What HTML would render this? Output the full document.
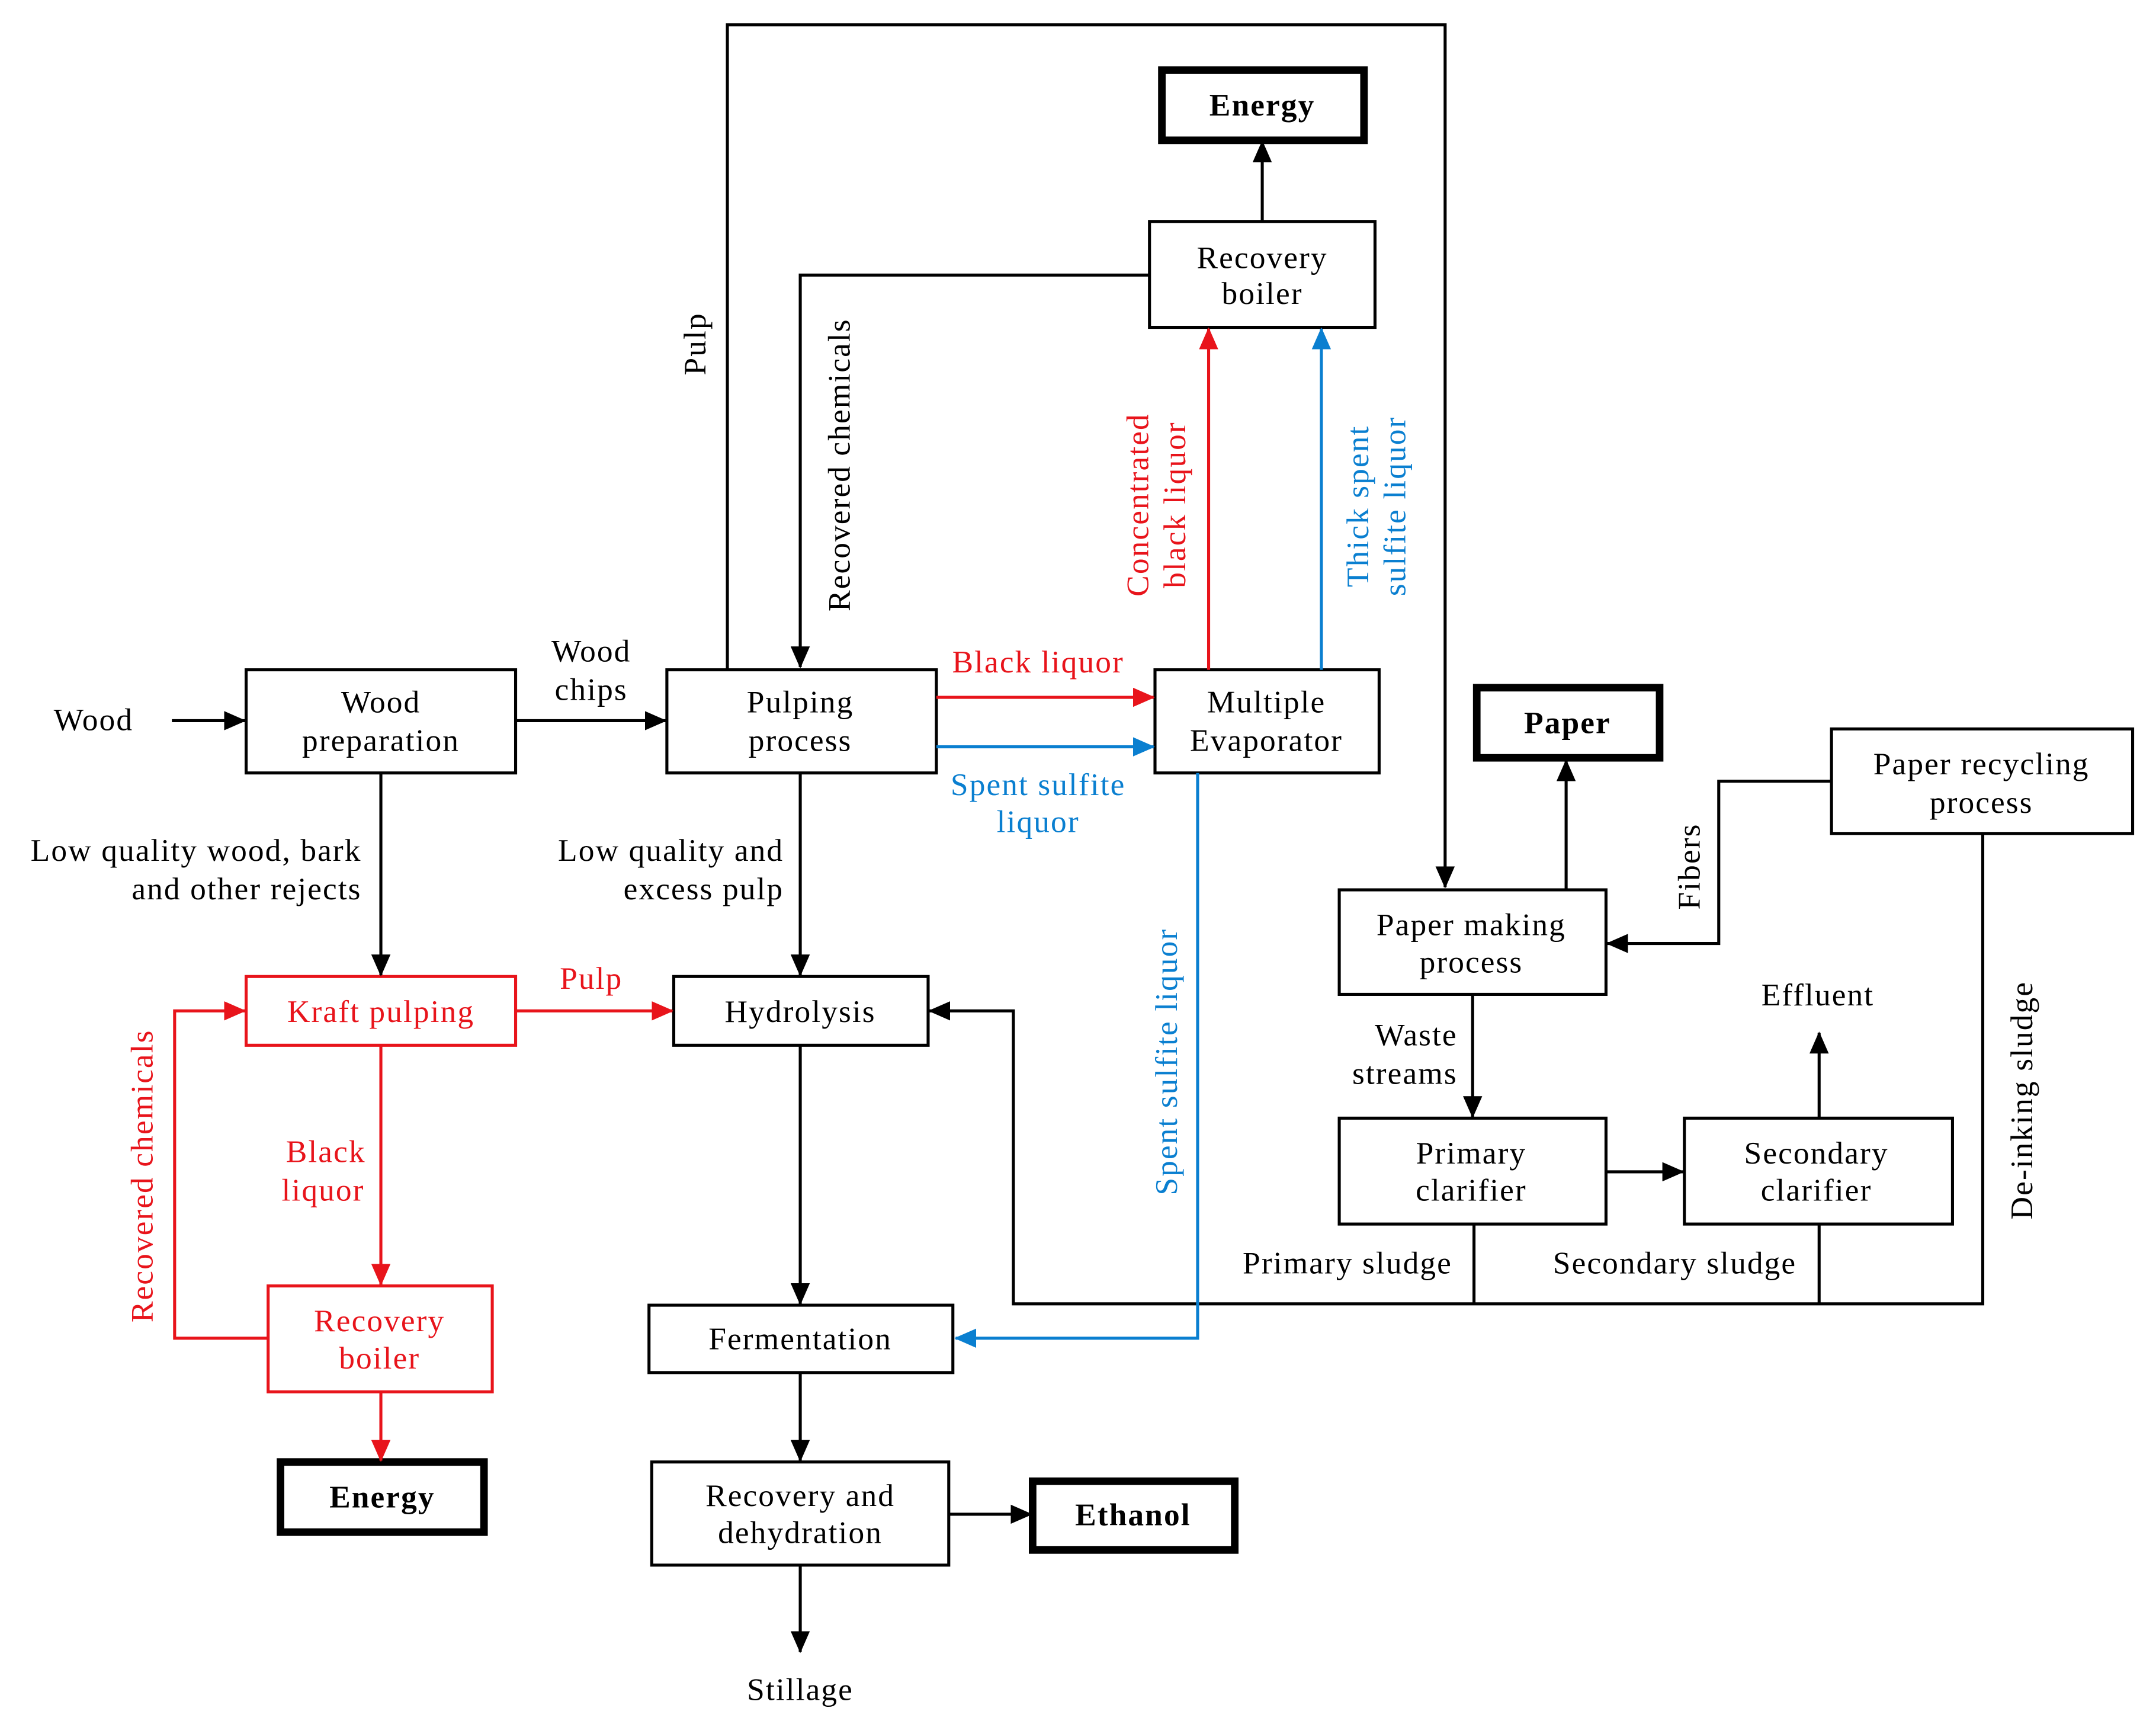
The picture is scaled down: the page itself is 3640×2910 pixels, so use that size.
<!DOCTYPE html>
<html><head><meta charset="utf-8"><style>html,body{margin:0;padding:0;background:#fff}svg{display:block}text{font-family:"Liberation Serif",serif;font-size:23px;letter-spacing:0.9px}</style></head>
<body>
<svg width="3640" height="2910" viewBox="0 0 1568 1253.5" xmlns="http://www.w3.org/2000/svg">
<defs>
<marker id="ak" markerUnits="userSpaceOnUse" markerWidth="16" markerHeight="14" refX="15" refY="7" orient="auto"><path d="M0,0 L16,7 L0,14 z" fill="#000"/></marker>
<marker id="ar" markerUnits="userSpaceOnUse" markerWidth="16" markerHeight="14" refX="15" refY="7" orient="auto"><path d="M0,0 L16,7 L0,14 z" fill="#e8141b"/></marker>
<marker id="ab" markerUnits="userSpaceOnUse" markerWidth="16" markerHeight="14" refX="15" refY="7" orient="auto"><path d="M0,0 L16,7 L0,14 z" fill="#0a7fd0"/></marker>
</defs>
<g fill="none" stroke="#000" stroke-width="2.2">
<rect x="179" y="487" width="196" height="75"/>
<rect x="485" y="487" width="196" height="75"/>
<rect x="836" y="161" width="164" height="77"/>
<rect x="840" y="487" width="163" height="75"/>
<rect x="490" y="710" width="185" height="50"/>
<rect x="472" y="949" width="221" height="49"/>
<rect x="474" y="1063" width="216" height="75"/>
<rect x="974" y="647" width="194" height="76"/>
<rect x="1332" y="530" width="219" height="76"/>
<rect x="974" y="813" width="194" height="77"/>
<rect x="1225" y="813" width="195" height="77"/>
</g>
<g fill="none" stroke="#000" stroke-width="5.5">
<rect x="845" y="51" width="147" height="51"/>
<rect x="204" y="1063" width="148" height="51"/>
<rect x="751" y="1077" width="147" height="50"/>
<rect x="1074" y="500" width="133" height="51"/>
</g>
<g fill="none" stroke="#e8141b" stroke-width="2.2">
<rect x="179" y="710" width="196" height="50"/>
<rect x="195" y="935" width="163" height="77"/>
</g>
<g fill="none" stroke="#000" stroke-width="2.2" marker-end="url(#ak)">
<path d="M125,524 H178"/>
<path d="M375,524 H484"/>
<path d="M529,487 V18 H1051 V645"/>
<path d="M836,200 H582 V485"/>
<path d="M918,161 V103"/>
<path d="M582,562 V709"/>
<path d="M277,562 V709"/>
<path d="M582,760 V948"/>
<path d="M582,998 V1062"/>
<path d="M690,1101 H750"/>
<path d="M582,1138 V1201"/>
<path d="M1139,647 V553"/>
<path d="M1332,568 H1250 V686 H1169"/>
<path d="M1442,606 V948 H737 V735 H676"/>
<path d="M1071,723 V812"/>
<path d="M1168,852 H1224"/>
<path d="M1323,813 V751"/>
</g>
<g fill="none" stroke="#000" stroke-width="2.2"><path d="M1072,890 V948 M1323,890 V948"/></g>
<g fill="none" stroke="#e8141b" stroke-width="2.2" marker-end="url(#ar)">
<path d="M681,507 H839"/>
<path d="M879,487 V239"/>
<path d="M375,735 H489"/>
<path d="M277,760 V934"/>
<path d="M195,973 H127 V735 H178"/>
<path d="M277,1012 V1062"/>
</g>
<g fill="none" stroke="#0a7fd0" stroke-width="2.2" marker-end="url(#ab)">
<path d="M681,543 H839"/>
<path d="M961,487 V239"/>
<path d="M871,562 V973 H695"/>
</g>
<g text-anchor="middle" fill="#000">
<text x="68" y="531">Wood</text>
<text x="277" y="518">Wood</text><text x="277" y="546">preparation</text>
<text x="430" y="481">Wood</text><text x="430" y="509">chips</text>
<text x="582" y="518">Pulping</text><text x="582" y="546">process</text>
<text x="918" y="195">Recovery</text><text x="918" y="221">boiler</text>
<text x="918" y="84" font-weight="bold">Energy</text>
<text x="921" y="518">Multiple</text><text x="921" y="546">Evaporator</text>
<text x="582" y="743">Hydrolysis</text>
<text x="582" y="981">Fermentation</text>
<text x="582" y="1095">Recovery and</text><text x="582" y="1122">dehydration</text>
<text x="824" y="1109" font-weight="bold">Ethanol</text>
<text x="582" y="1236">Stillage</text>
<text x="278" y="1096" font-weight="bold">Energy</text>
<text x="1140" y="533" font-weight="bold">Paper</text>
<text x="1070" y="680">Paper making</text><text x="1070" y="707">process</text>
<text x="1441" y="563">Paper recycling</text><text x="1441" y="591">process</text>
<text x="1070" y="846">Primary</text><text x="1070" y="873">clarifier</text>
<text x="1321" y="846">Secondary</text><text x="1321" y="873">clarifier</text>
<text x="1322" y="731">Effluent</text>
<text x="980" y="926">Primary sludge</text>
<text x="1218" y="926">Secondary sludge</text>
</g>
<g text-anchor="end" fill="#000">
<text x="263" y="626">Low quality wood, bark</text><text x="263" y="654">and other rejects</text>
<text x="570" y="626">Low quality and</text><text x="570" y="654">excess pulp</text>
<text x="1060" y="760">Waste</text><text x="1060" y="788">streams</text>
</g>
<g text-anchor="middle" fill="#e8141b">
<text x="755" y="489">Black liquor</text>
<text x="430" y="719">Pulp</text>
<text x="237" y="845">Black</text><text x="235" y="873">liquor</text>
<text x="276" y="968">Recovery</text><text x="276" y="995">boiler</text>
<text x="277" y="743">Kraft pulping</text>
</g>
<g text-anchor="middle" fill="#0a7fd0">
<text x="755" y="578">Spent sulfite</text><text x="755" y="605">liquor</text>
</g>
<g text-anchor="middle">
<text transform="translate(513,250) rotate(-90)">Pulp</text>
<text transform="translate(618,338) rotate(-90)">Recovered chemicals</text>
<text transform="translate(835,367) rotate(-90)" fill="#e8141b">Concentrated</text>
<text transform="translate(862,367) rotate(-90)" fill="#e8141b">black liquor</text>
<text transform="translate(995,368) rotate(-90)" fill="#0a7fd0">Thick spent</text>
<text transform="translate(1022,368) rotate(-90)" fill="#0a7fd0">sulfite liquor</text>
<text transform="translate(856,772) rotate(-90)" fill="#0a7fd0">Spent sulfite  liquor</text>
<text transform="translate(111,855) rotate(-90)" fill="#e8141b">Recovered chemicals</text>
<text transform="translate(1236,630) rotate(-90)">Fibers</text>
<text transform="translate(1478,800) rotate(-90)">De-inking sludge</text>
</g>
</svg>
</body></html>
